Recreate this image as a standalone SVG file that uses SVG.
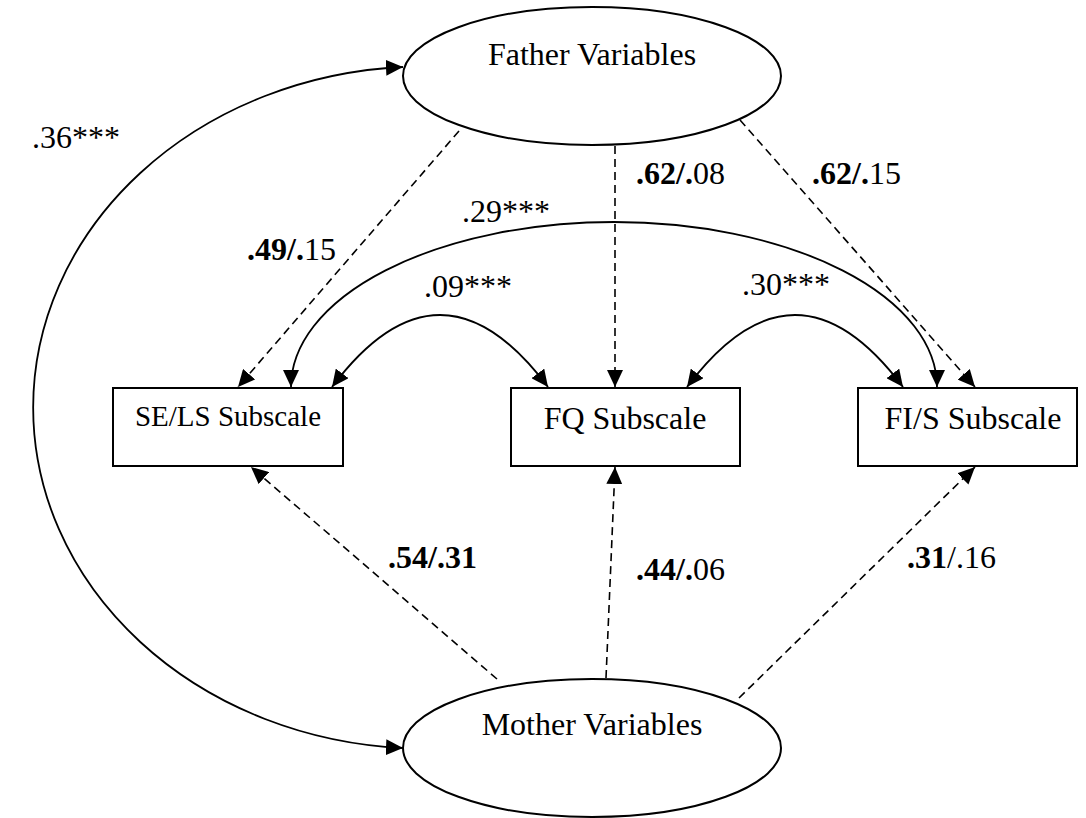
<svg xmlns="http://www.w3.org/2000/svg" width="1086" height="818" viewBox="0 0 1086 818">
<style>
.node{fill:#fff;stroke:#000;stroke-width:2}
.lbl{font-family:"Liberation Serif","Times New Roman",serif;fill:#000}
.nt{font-size:32px;text-anchor:middle}
.el{font-size:32px}
.b{font-weight:bold}
.solid{fill:none;stroke:#000;stroke-width:1.8}
.dash{fill:none;stroke:#000;stroke-width:1.6;stroke-dasharray:8 5}
</style>
<defs>
<marker id="ah" viewBox="0 0 17 16" refX="17" refY="8" markerWidth="17" markerHeight="16" markerUnits="userSpaceOnUse" orient="auto-start-reverse">
<path d="M0,0 L17,8 L0,16 z" fill="#000"/>
</marker>
</defs>
<rect width="1086" height="818" fill="#fff"/>
<g id="connectors">
<path class="solid" d="M403 67 A391 341 0 0 0 403 748" marker-start="url(#ah)" marker-end="url(#ah)"/>
<path class="solid" d="M291 387 A323 165 0 0 1 937 387" marker-start="url(#ah)" marker-end="url(#ah)"/>
<path class="solid" d="M332 387 C404 291 476 291 548 387" marker-start="url(#ah)" marker-end="url(#ah)"/>
<path class="solid" d="M687 387 C759 291 831 291 903 387" marker-start="url(#ah)" marker-end="url(#ah)"/>
<path class="dash" d="M459 131 L238 387" marker-end="url(#ah)"/>
<path class="dash" d="M615 146 L615 387" marker-end="url(#ah)"/>
<path class="dash" d="M740 120 L975 387" marker-end="url(#ah)"/>
<path class="dash" d="M497 679 L251 467" marker-end="url(#ah)"/>
<path class="dash" d="M606 678 L615 467" marker-end="url(#ah)"/>
<path class="dash" d="M739 698 L975 467" marker-end="url(#ah)"/>
</g>
<g id="father">
<ellipse class="node" cx="592" cy="76" rx="189" ry="69"/>
<text class="lbl nt" x="592" y="65">Father Variables</text>
</g>
<g id="mother">
<ellipse class="node" cx="592" cy="748" rx="189" ry="69"/>
<text class="lbl nt" x="592" y="735">Mother Variables</text>
</g>
<g id="sels">
<rect class="node" x="113" y="388" width="230" height="78"/>
<text class="lbl nt" x="228" y="426" style="font-size:29px">SE/LS Subscale</text>
</g>
<g id="fq">
<rect class="node" x="511" y="388" width="229" height="78"/>
<text class="lbl nt" x="625" y="429" style="font-size:32px">FQ Subscale</text>
</g>
<g id="fis">
<rect class="node" x="858" y="388" width="219" height="78"/>
<text class="lbl nt" x="973" y="429" style="font-size:32px">FI/S Subscale</text>
</g>
<g id="labels">
<text class="lbl el" x="32" y="148">.36***</text>
<text class="lbl el" x="462" y="222">.29***</text>
<text class="lbl el" x="424" y="297">.09***</text>
<text class="lbl el" x="742" y="295">.30***</text>
<text class="lbl el" x="247" y="260"><tspan class="b">.49/.</tspan>15</text>
<text class="lbl el" x="636" y="184"><tspan class="b">.62/.</tspan>08</text>
<text class="lbl el" x="812" y="184"><tspan class="b">.62/.</tspan>15</text>
<text class="lbl el b" x="388" y="568">.54/.31</text>
<text class="lbl el" x="636" y="580"><tspan class="b">.44/.</tspan>06</text>
<text class="lbl el" x="907" y="568"><tspan class="b">.31</tspan>/.16</text>
</g>
</svg>
